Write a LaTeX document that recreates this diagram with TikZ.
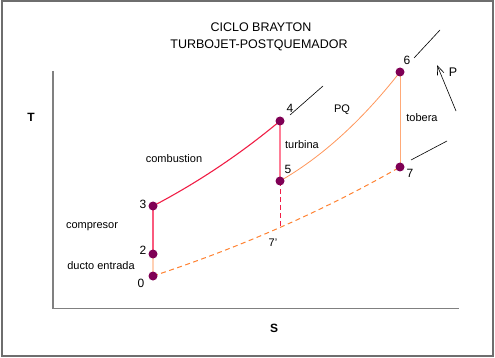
\documentclass[tikz,border=0pt]{standalone}
\usepackage{fontspec}
\setmainfont{Liberation Sans}
\usepackage{tikz}
\usetikzlibrary{arrows.meta,calc}
\definecolor{framegray}{RGB}{110,110,110}

\begin{document}
\begin{tikzpicture}[x=1pt,y=-1pt,
    dot/.style={circle, fill=dotcolor, inner sep=0pt, minimum size=9pt},
    num/.style={font=\fontsize{12}{14}\selectfont, inner sep=0pt},
    lbl/.style={font=\fontsize{11}{13}\selectfont, inner sep=0pt},
    tick/.style={black, line width=0.6pt}]
    % Define colors for each stage
    \definecolor{dotcolor}{RGB}{127,0,85}    % Purple
    \definecolor{ductcolor}{RGB}{255,208,180} % Peach
    \definecolor{compcolor}{RGB}{250,90,125}  % Pink-red
    \definecolor{combcolor}{RGB}{240,30,70}   % Crimson
    \definecolor{turbcolor}{RGB}{255,125,150} % Pink
    \definecolor{pqcolor}{RGB}{255,150,90}    % Light orange
    \definecolor{tobcolor}{RGB}{255,170,120}  % Pale orange
    \definecolor{expcolor}{RGB}{255,130,50}   % Orange

    % Frame and axes
    \useasboundingbox (0,0) rectangle (495,358);
    \draw[framegray, line width=2pt] (1.5,1.5) rectangle (493,356);
    \coordinate (axtop) at (53,71);
    \coordinate (axorig) at (53,308.5);
    \coordinate (axright) at (459,308.5);
    \draw[gray, line width=1.8pt] (axtop) -- (axorig) -- (axright);
    \node[font=\bfseries\fontsize{12}{14}\selectfont] (tlab) at (31,117) {T};
    \node[font=\bfseries\fontsize{12}{14}\selectfont] (slab) at (274,328) {S};

    % Title
    \node[font=\fontsize{12.5}{15}\selectfont] (title1) at (261,27) {CICLO BRAYTON};
    \node[font=\fontsize{12.5}{15}\selectfont] (title2) at (259,45) {TURBOJET-POSTQUEMADOR};

    % State points
    \foreach \n/\x/\y in {0/153/276, 2/153/254, 3/153/206, 4/280/121,
                          5/280/181, 6/400/72, 7/400/167} {
        \coordinate (c\n) at (\x,\y);
    }
    \coordinate (c7p) at (280,228);

    % Process lines
    \draw[ductcolor, line width=1.6pt] (c0) -- (c2);
    \draw[compcolor, line width=1.6pt] (c2) -- (c3);
    \draw[combcolor, line width=1.1pt] (c3) .. controls (195,184) and (238,156) .. (c4);
    \draw[turbcolor, line width=1.8pt] (c4) -- (c5);
    \draw[pqcolor, line width=0.8pt] (c5) .. controls (320,158) and (360,123) .. (c6);
    \draw[tobcolor, line width=0.8pt] (c6) -- (c7);
    \draw[expcolor, line width=1pt, dash pattern=on 5pt off 3.5pt]
        (c0) .. controls (235,249) and (318,214) .. (c7);
    \draw[combcolor, line width=1pt, dash pattern=on 5pt off 3pt] (c5) -- (c7p);

    \foreach \n in {0,2,3,4,5,6,7} {
        \node[dot] (p\n) at (c\n) {};
    }

    % Point numbers
    \node[num] (n0) at (141,283) {0};
    \node[num] (n2) at (143,250) {2};
    \node[num] (n3) at (143,204) {3};
    \node[num] (n4) at (290,108) {4};
    \node[num] (n5) at (288,169) {5};
    \node[num] (n6) at (407,60) {6};
    \node[num] (n7) at (410,173) {7};
    \node[lbl] (n7p) at (273,243) {7'};

    % Stage names
    \node[lbl] (comb) at (174,159) {combustion};
    \node[lbl] (turb) at (302,145) {turbina};
    \node[lbl] (pq) at (342,110) {PQ};
    \node[lbl] (tob) at (422,118) {tobera};
    \node[lbl] (comp) at (92,227) {compresor};
    \node[lbl] (duct) at (101,266) {ducto entrada};

    % Pressure marks
    \coordinate (m4a) at (290,115); \coordinate (m4b) at (323,86);
    \coordinate (m6a) at (414,58);  \coordinate (m6b) at (440,30);
    \coordinate (m7a) at (411,160); \coordinate (m7b) at (447,141);
    \draw[tick] (m4a) -- (m4b);
    \draw[tick] (m6a) -- (m6b);
    \draw[tick] (m7a) -- (m7b);
    \coordinate (parr) at (456,111);
    \coordinate (ptip) at (437,65);
    \draw[tick, -{Straight Barb[length=9pt, width=7pt]}] (parr) -- (ptip);
    \node[font=\fontsize{12.5}{15}\selectfont, inner sep=0pt] (plab) at (453,72) {P};
\end{tikzpicture}
\end{document}
